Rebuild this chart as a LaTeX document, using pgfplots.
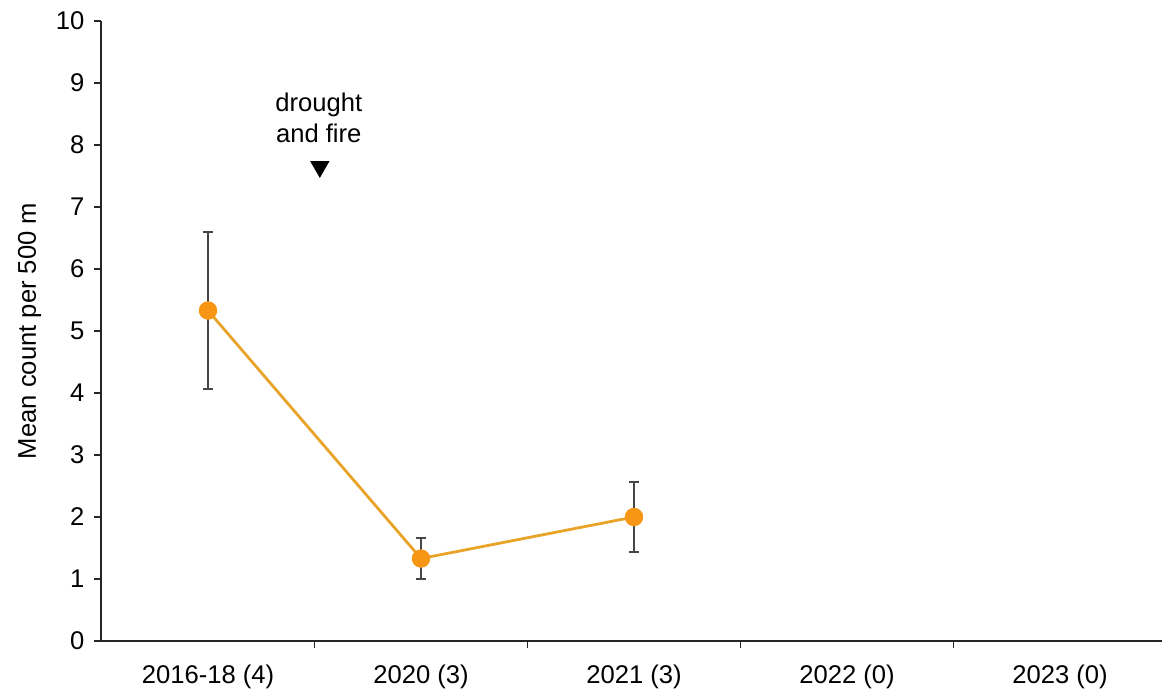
\documentclass[border=0pt]{standalone}
\usepackage{fontspec}
\setmainfont{Liberation Sans}
\usepackage{pgfplots}
\pgfplotsset{compat=1.18}
\definecolor{ptorange}{RGB}{247,150,20}
\definecolor{lnorange}{RGB}{232,163,40}
\definecolor{barcol}{RGB}{70,70,70}
\begin{document}
\begin{tikzpicture}
\begin{axis}[
  scale only axis,
  width=532.5pt, height=310pt,
  xmin=-0.5, xmax=4.5,
  ymin=0, ymax=10,
  axis lines=left,
  axis line style={-, line width=1pt, black!85},
  font=\fontsize{12.8}{15}\selectfont,
  /pgf/number format/assume math mode=true,
  xtick={0,1,2,3,4},
  xticklabels={2016-18 (4),2020 (3),2021 (3),2022 (0),2023 (0)},
  minor xtick={0.5,1.5,2.5,3.5},
  ytick={0,1,...,10},
  tick align=outside,
  major tick length=3.5pt,
  minor tick length=3.5pt,
  every major x tick/.style={draw=none},
  every minor x tick/.style={line width=0.8pt, black!85},
  y tick style={line width=0.8pt, black!85},
  xticklabel style={yshift=-5pt},
  yticklabel style={xshift=-1.5pt},
  ylabel={Mean count per 500 m},
  every axis y label/.style={at={(axis description cs:0,0.5)}, xshift=-36pt, rotate=90, anchor=center},
  clip=false,
]
\coordinate (o) at (rel axis cs:0,0);
\addplot[color=lnorange, line width=1.4pt, mark=none,
  error bars/.cd, y dir=both, y explicit,
  error bar style={draw=barcol, line width=1pt},
  error mark options={rotate=90, mark size=2.6pt, draw=barcol, line width=1pt}]
  coordinates {
  (0,5.33) +- (0,1.26)
  (1,1.33) +- (0,0.33)
  (2,2.00) +- (0,0.57)
};
\addplot[only marks, mark=*, mark size=4.4pt, color=ptorange, mark options={fill=ptorange, draw=ptorange}]
  coordinates {(0,5.33) (1,1.33) (2,2.00)};
\addplot[only marks, mark=triangle*, mark size=5.2pt, mark options={rotate=180, fill=black, draw=black}]
  coordinates {(0.525,7.65)};
\node[align=center, font=\fontsize{12.8}{15.5}\selectfont] at (axis cs:0.52,8.44) {drought\\and fire};
\end{axis}
\pgfresetboundingbox
\path[use as bounding box] (o) ++(-50.75pt,-27pt) rectangle ++(581pt,347.5pt);
\end{tikzpicture}
\end{document}
